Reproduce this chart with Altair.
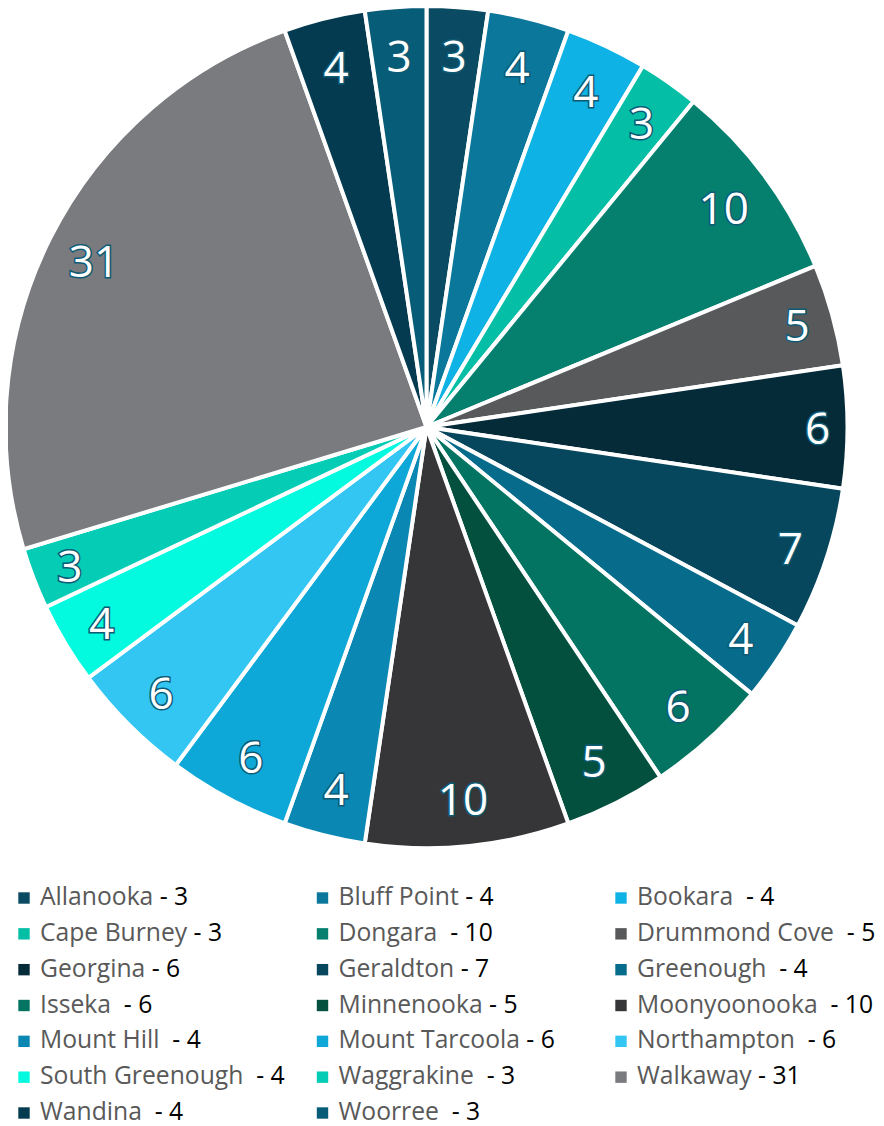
import altair as alt
import pandas as pd

names = ["Allanooka", "Bluff Point", "Bookara", "Cape Burney", "Dongara",
         "Drummond Cove", "Georgina", "Geraldton", "Greenough", "Isseka",
         "Minnenooka", "Moonyoonooka", "Mount Hill", "Mount Tarcoola",
         "Northampton", "South Greenough", "Waggrakine", "Walkaway",
         "Wandina", "Woorree"]
values = [3, 4, 4, 3, 10, 5, 6, 7, 4, 6, 5, 10, 4, 6, 6, 4, 3, 31, 4, 3]
colors = ["#0a4a62", "#0a779b", "#0fb2e4", "#04bfa6", "#05806f",
          "#58595b", "#052a38", "#06475e", "#076b8c", "#047462",
          "#03503f", "#363638", "#0b87b4", "#0ea8d8", "#33c6f2",
          "#03fade", "#05ccb5", "#7a7b7f", "#053b50", "#075d78"]
# spacing between name and " - N" in the legend (number of extra spaces)
gaps = [0, 0, 1, 0, 1, 1, 0, 0, 1, 1, 0, 1, 1, 0, 1, 1, 1, 0, 1, 1]

NB = "\u00a0"
df = pd.DataFrame({"name": names, "value": values, "idx": list(range(len(names)))})
df["row"] = df["idx"] // 3
df["col"] = df["idx"] % 3
df["full"] = [n + NB * (1 + g) + "-" + NB + str(v) for n, v, g in zip(names, values, gaps)]

color_scale = alt.Scale(domain=names, range=colors)
CX, CY, R = 418.5, 419, 421

arcs = alt.Chart(df).mark_arc(outerRadius=R, stroke="white", strokeWidth=4).encode(
    theta=alt.Theta("value:Q", stack=True),
    order=alt.Order("idx:Q"),
    x=alt.value(CX),
    y=alt.value(CY),
    color=alt.Color("name:N", scale=color_scale, legend=None),
)

# "inside end" label placement: text box edge kept at a fixed inset from the rim
lab_base = alt.Chart(df).transform_joinaggregate(
    total="sum(value)"
).transform_window(
    cum="sum(value)", sort=[alt.SortField("idx", order="ascending")], frame=[None, 0]
).transform_calculate(
    mid="(datum.cum - datum.value / 2) / datum.total * 2 * PI",
    ndig="datum.value >= 10 ? 2 : 1",
).transform_calculate(
    lr="400 - abs(sin(datum.mid)) * 9 * datum.ndig - abs(cos(datum.mid)) * 26"
).encode(
    theta=alt.Theta("mid:Q", scale=None, stack=None),
    radius=alt.Radius("lr:Q", scale=None),
    x=alt.value(CX),
    y=alt.value(CY),
    text="value:Q",
)
lab_outline = lab_base.mark_text(fontSize=44, font="Open Sans", dy=4,
                                 baseline="middle", align="center",
                                 fill="#0d5a74", stroke="#0d5a74", strokeWidth=3)
lab_fill = lab_base.mark_text(fontSize=44, font="Open Sans", dy=4,
                              baseline="middle", align="center", fill="white")

lbase = alt.Chart(df).encode(
    x=alt.X("col:Q", scale=alt.Scale(domain=[0, 2], range=[16, 613]), axis=None),
    y=alt.Y("row:Q", scale=alt.Scale(domain=[0, 6], range=[890, 1105]), axis=None),
)
sym = lbase.mark_square(size=130, opacity=1).encode(
    color=alt.Color("name:N", scale=color_scale, legend=None)
)
FS = 24.7
full_txt = lbase.mark_text(align="left", baseline="middle", dx=16, fontSize=FS,
                           font="Open Sans", fill="black").encode(text="full:N")
mask_txt = lbase.mark_text(align="left", baseline="middle", dx=16, fontSize=FS,
                           font="Open Sans", fill="white", stroke="white",
                           strokeWidth=2).encode(text="name:N")
name_txt = lbase.mark_text(align="left", baseline="middle", dx=16, fontSize=FS,
                           font="Open Sans", fill="#595959").encode(text="name:N")

chart = alt.layer(arcs, lab_outline, lab_fill, sym, full_txt, mask_txt, name_txt).properties(
    width=868, height=1118,
    autosize=alt.AutoSizeParams(type="none"),
    padding=0,
).configure_view(stroke=None)
chart.save("out.html", embed_options={"renderer": "svg", "actions": False})
